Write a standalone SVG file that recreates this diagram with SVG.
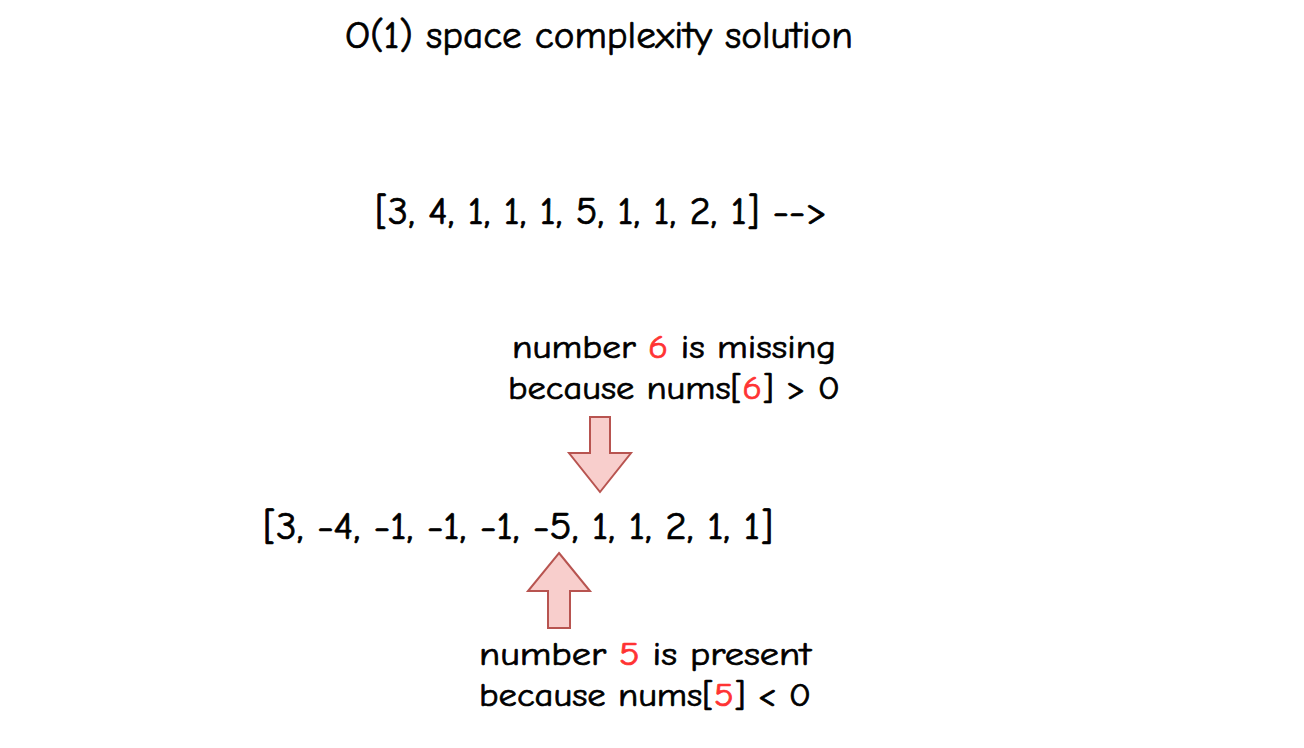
<svg xmlns="http://www.w3.org/2000/svg" width="1304" height="748" viewBox="0 0 1304 748">
<style>
text{font-family:"Comic Sans MS","Comic Neue","Open Sans","Noto Sans",sans-serif;fill:#000;stroke:#000;stroke-width:0.7}
.big{font-size:38px}
.mid{font-size:32px}
.red{fill:#ff3333;stroke:#ff3333}
.arrow{fill:#f8cecc;stroke:#b85450;stroke-width:2;stroke-linejoin:miter}
</style>
<rect width="1304" height="748" fill="#fff"/>
<g id="title"><text class="big" x="345" y="48" textLength="508" lengthAdjust="spacingAndGlyphs">O(1) space complexity solution</text></g>
<g id="array-input"><text class="big" x="375" y="224" textLength="452" lengthAdjust="spacingAndGlyphs">[3, 4, 1, 1, 1, 5, 1, 1, 2, 1] --&gt;</text></g>
<g id="note-missing">
<text class="mid" x="512" y="358" textLength="324" lengthAdjust="spacingAndGlyphs">number <tspan class="red">6</tspan> is missing</text>
<text class="mid" x="508" y="399" textLength="332" lengthAdjust="spacingAndGlyphs">because nums[<tspan class="red">6</tspan>] &gt; 0</text>
</g>
<g id="array-result"><text class="big" x="263" y="539" textLength="510" lengthAdjust="spacingAndGlyphs">[3, -4, -1, -1, -1, -5, 1, 1, 2, 1, 1]</text></g>
<g id="note-present">
<text class="mid" x="479" y="665" textLength="332" lengthAdjust="spacingAndGlyphs">number <tspan class="red">5</tspan> is present</text>
<text class="mid" x="479" y="706" textLength="332" lengthAdjust="spacingAndGlyphs">because nums[<tspan class="red">5</tspan>] &lt; 0</text>
</g>
<g id="connectors">
<path id="arrow-down" class="arrow" d="M590,417 L610,417 L610,453 L631,453 L600,492 L569,453 L590,453 Z"/>
<path id="arrow-up" class="arrow" d="M559,553 L590,591 L570,591 L570,628 L548,628 L548,591 L528,591 Z"/>
</g>
</svg>
